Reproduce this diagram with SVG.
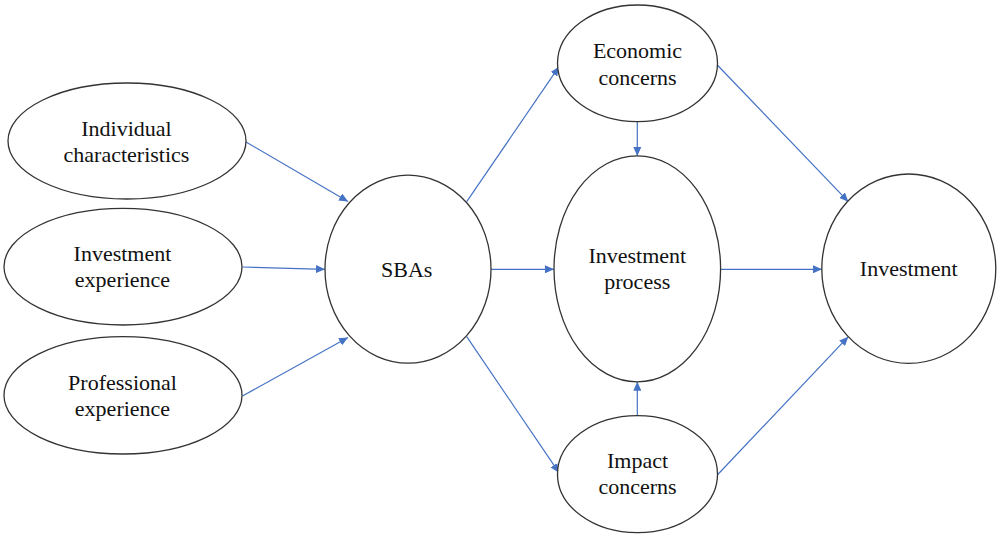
<svg xmlns="http://www.w3.org/2000/svg" width="1000" height="540" viewBox="0 0 1000 540">
<style>
.node ellipse{fill:#ffffff;stroke:#333333;stroke-width:1.3}
.node text{font-family:'Liberation Serif','Tinos','Times New Roman','Noto Serif','DejaVu Serif','FreeSerif',serif;font-size:22px;fill:#111111;text-anchor:middle}
.conn line{stroke:#4472C4;stroke-width:1.2;fill:none;marker-end:url(#ah)}
</style>
<defs>
<marker id="ah" markerUnits="userSpaceOnUse" markerWidth="9" markerHeight="8" viewBox="0 0 9 8" refX="9" refY="4" orient="auto">
<path d="M0,0 L9,4 L0,8 Z" fill="#4472C4"/>
</marker>
</defs>
<rect width="1000" height="540" fill="#ffffff"/>
<g id="connectors" class="conn">
<line x1="246" y1="142" x2="348" y2="201.5"/>
<line x1="242.5" y1="267" x2="325" y2="269.3"/>
<line x1="242.5" y1="396" x2="348" y2="337.5"/>
<line x1="466.7" y1="201.7" x2="559" y2="66.7"/>
<line x1="490.5" y1="269.3" x2="554" y2="269.3"/>
<line x1="466.7" y1="336.7" x2="559" y2="472.7"/>
<line x1="637.3" y1="122" x2="637.3" y2="156"/>
<line x1="637.3" y1="415.7" x2="637.3" y2="381.7"/>
<line x1="717.3" y1="65" x2="848.3" y2="201.7"/>
<line x1="720.7" y1="269.3" x2="822" y2="269.3"/>
<line x1="717.3" y1="475" x2="848.3" y2="336.7"/>
</g>
<g id="individual" class="node">
<ellipse cx="127" cy="141" rx="119" ry="58"/>
<text x="126.5" y="136">Individual</text>
<text x="126.5" y="161.7">characteristics</text>
</g>
<g id="invexp" class="node">
<ellipse cx="123" cy="266.7" rx="119" ry="58.3"/>
<text x="122.5" y="261">Investment</text>
<text x="122.5" y="286.7">experience</text>
</g>
<g id="profexp" class="node">
<ellipse cx="123" cy="395.3" rx="119" ry="58.7"/>
<text x="122.5" y="390">Professional</text>
<text x="122.5" y="416">experience</text>
</g>
<g id="sbas" class="node">
<ellipse cx="408" cy="269.2" rx="83" ry="94"/>
<text x="406.7" y="276.7">SBAs</text>
</g>
<g id="economic" class="node">
<ellipse cx="637.5" cy="63.3" rx="80" ry="58.3"/>
<text x="637.5" y="58.3">Economic</text>
<text x="637.5" y="84.5">concerns</text>
</g>
<g id="process" class="node">
<ellipse cx="637.3" cy="268.8" rx="83.3" ry="113"/>
<text x="637.3" y="263.3">Investment</text>
<text x="637.3" y="289.3">process</text>
</g>
<g id="impact" class="node">
<ellipse cx="637.5" cy="474.2" rx="80" ry="58.5"/>
<text x="637.5" y="468.3">Impact</text>
<text x="637.5" y="494">concerns</text>
</g>
<g id="investment" class="node">
<ellipse cx="908.8" cy="268.7" rx="87" ry="94.7"/>
<text x="908.7" y="276">Investment</text>
</g>
</svg>
